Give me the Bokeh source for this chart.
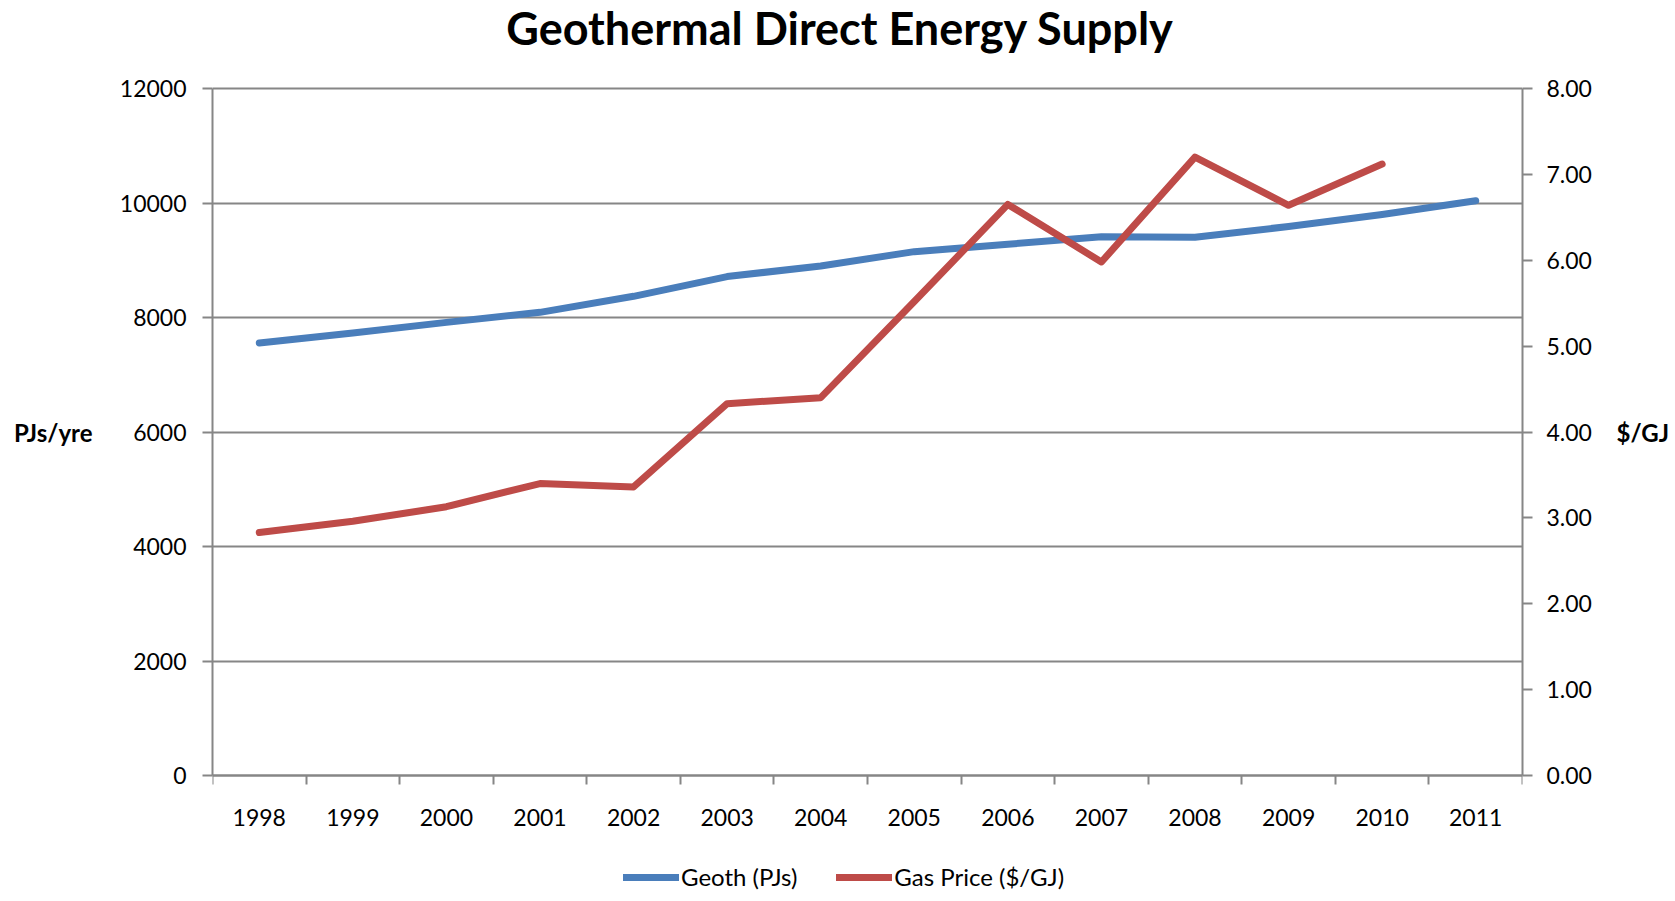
from bokeh.plotting import figure
from bokeh.models import (Range1d, LinearAxis, FixedTicker, NumeralTickFormatter,
                          Legend, LegendItem, Label)
from bokeh.embed import file_html
from bokeh.resources import INLINE

# ---- data ----
years = [1998, 1999, 2000, 2001, 2002, 2003, 2004, 2005, 2006, 2007, 2008, 2009, 2010, 2011]
geoth_pj = [7555, 7730, 7915, 8090, 8370, 8715, 8900, 9150, 9280, 9410, 9400, 9590, 9800, 10040]
gas_price = [2.83, 2.96, 3.13, 3.40, 3.36, 4.33, 4.40, 5.52, 6.65, 5.98, 7.20, 6.64, 7.12, float("nan")]
left_ticks = [0, 2000, 4000, 6000, 8000, 10000, 12000]
right_ticks = [0, 1, 2, 3, 4, 5, 6, 7, 8]
title_text = "Geothermal Direct Energy Supply"
left_label = "PJs/yre"
right_label = "$/GJ"
legend_labels = ["Geoth (PJs)", "Gas Price ($/GJ)"]

FONT = "Lato"
GRAY = "#868686"
BLUE = "#4A7EBB"
RED = "#BE4B48"

# layout (pixels)
FW = 1310          # frame width
PH = 687           # height of the 0..12000 plot area
TOP = 88           # band above the plot area (title)
BOT = 118          # band below the plot area (x labels, legend)
FH = TOP + PH + BOT

lo_l = -left_ticks[-1] * BOT / PH
hi_l = left_ticks[-1] * (PH + TOP) / PH
lo_r = -right_ticks[-1] * BOT / PH
hi_r = right_ticks[-1] * (PH + TOP) / PH

p = figure(frame_width=FW, frame_height=FH, output_backend="svg", toolbar_location=None,
           x_range=Range1d(years[0] - 0.5, years[-1] + 0.5),
           y_range=Range1d(lo_l, hi_l),
           min_border_left=212, min_border_right=138, min_border_top=0, min_border_bottom=0)
p.extra_y_ranges = {"price": Range1d(lo_r, hi_r)}
p.outline_line_color = None

r1 = p.line(years, geoth_pj, line_color=BLUE, line_width=7, line_cap="round", line_join="round")
r2 = p.line(years, gas_price, line_color=RED, line_width=7, line_cap="round", line_join="round",
            y_range_name="price")

# title, drawn in the free band above the plot area
px_per_year = FW / len(years)
title_x = (years[0] - 0.5) + 627.6 / px_per_year
title_y = left_ticks[-1] * (PH + TOP - 27) / PH
p.add_layout(Label(x=title_x, y=title_y, text=title_text, text_align="center",
                   text_baseline="alphabetic", text_font=FONT, text_font_size="45px",
                   text_font_style="bold", text_color="black"))


def style_axis(ax, size="23px", standoff=16):
    ax.major_tick_out = 10
    ax.major_tick_in = 0
    ax.minor_tick_line_color = None
    ax.major_tick_line_color = GRAY
    ax.major_tick_line_width = 2
    ax.axis_line_color = GRAY
    ax.axis_line_width = 2
    ax.major_label_text_font = FONT
    ax.major_label_text_font_size = size
    ax.major_label_text_color = "black"
    ax.major_label_standoff = standoff


def title_axis(ax, text, tick, standoff):
    # an outer axis with a single labelled position: the horizontal axis title
    ax.ticker = FixedTicker(ticks=[tick])
    ax.major_label_overrides = {tick: text}
    ax.axis_line_color = None
    ax.major_tick_line_color = None
    ax.minor_tick_line_color = None
    ax.major_tick_out = 0
    ax.major_tick_in = 0
    ax.major_label_text_font = FONT
    ax.major_label_text_font_size = "24px"
    ax.major_label_text_font_style = "bold"
    ax.major_label_text_color = "black"
    ax.major_label_standoff = standoff


# x axis, pinned at y = 0
xa = p.xaxis[0]
xa.fixed_location = 0
xa.ticker = FixedTicker(ticks=years, minor_ticks=[y - 0.5 for y in years] + [years[-1] + 0.5])
xa.formatter = NumeralTickFormatter(format="0")
xa.major_tick_out = 0
xa.major_tick_in = 0
xa.minor_tick_out = 9
xa.minor_tick_in = 0
xa.minor_tick_line_color = GRAY
xa.minor_tick_line_width = 2
xa.axis_line_color = GRAY
xa.axis_line_width = 2
xa.major_label_text_font = FONT
xa.major_label_text_font_size = "23px"
xa.major_label_text_color = "black"
xa.major_label_standoff = 24

# left axis
ya = p.yaxis[0]
ya.bounds = (left_ticks[0], left_ticks[-1])
ya.ticker = FixedTicker(ticks=left_ticks)
ya.formatter = NumeralTickFormatter(format="0")
style_axis(ya, standoff=16)

ya2 = LinearAxis()
title_axis(ya2, left_label, left_ticks[len(left_ticks) // 2], 24)
p.add_layout(ya2, "left")

# right axis
ra = LinearAxis(y_range_name="price", ticker=FixedTicker(ticks=right_ticks),
                formatter=NumeralTickFormatter(format="0.00"),
                bounds=(right_ticks[0], right_ticks[-1]))
style_axis(ra, standoff=14)
p.add_layout(ra, "right")

ra2 = LinearAxis(y_range_name="price")
title_axis(ra2, right_label, right_ticks[len(right_ticks) // 2], 22)
p.add_layout(ra2, "right")

# grid
p.xgrid.visible = False
p.ygrid.ticker = FixedTicker(ticks=left_ticks)
p.ygrid.grid_line_color = GRAY
p.ygrid.grid_line_width = 2

# legend, in the band below the x labels
legend = Legend(items=[LegendItem(label=legend_labels[0], renderers=[r1]),
                       LegendItem(label=legend_labels[1], renderers=[r2])],
                orientation="horizontal", location=(411, 2))
legend.label_text_font = FONT
legend.label_text_font_size = "24px"
legend.label_text_color = "black"
legend.glyph_width = 56
legend.glyph_height = 20
legend.label_height = 20
legend.label_standoff = 2
legend.spacing = 39
legend.border_line_color = None
legend.background_fill_alpha = 0
legend.padding = 0
legend.margin = 0
p.add_layout(legend, "center")

open("out.html", "w").write(file_html(p, INLINE))
